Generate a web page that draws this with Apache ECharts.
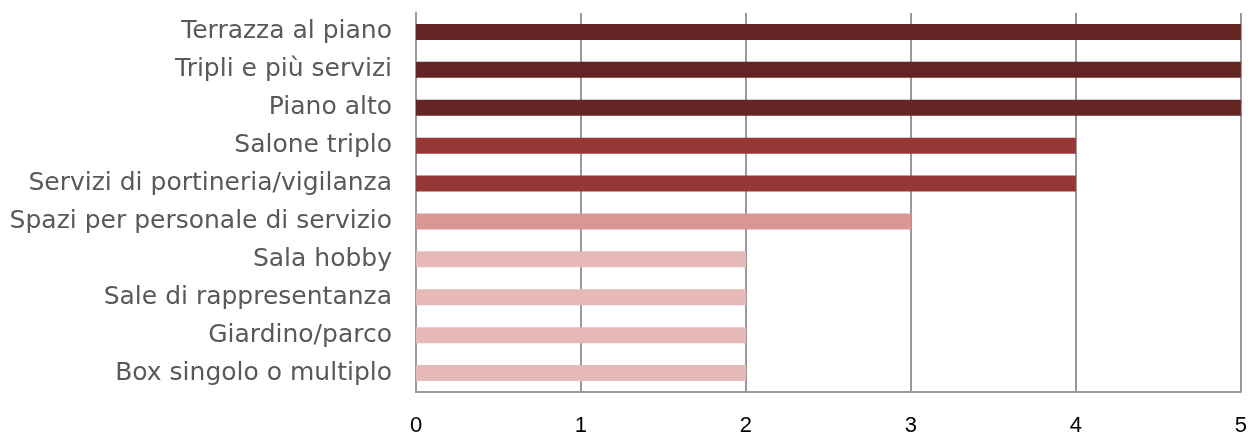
<!DOCTYPE html>
<html>
<head>
<meta charset="utf-8">
<script src="https://cdn.jsdelivr.net/npm/echarts@6/dist/echarts.min.js"></script>
<style>
  html, body { margin: 0; padding: 0; background: #fff; }
  #chart { width: 1250px; height: 437px; }
</style>
</head>
<body>
<div id="chart"></div>
<script>
// Categories listed bottom to top, as the category axis draws them
const categories = [
  'Box singolo o multiplo',
  'Giardino/parco',
  'Sale di rappresentanza',
  'Sala hobby',
  'Spazi per personale di servizio',
  'Servizi di portineria/vigilanza',
  'Salone triplo',
  'Piano alto',
  'Tripli e più servizi',
  'Terrazza al piano'
];
const scores = [2, 2, 2, 2, 3, 4, 4, 5, 5, 5];
const xTicks = [0, 1, 2, 3, 4, 5];

// Shade bars by score level
const shadeByScore = { 2: '#E6B9B8', 3: '#D99694', 4: '#953735', 5: '#632523' };

const chart = echarts.init(document.getElementById('chart'));
chart.setOption({
  animation: false,
  grid: { left: 416, right: 8, top: 13, bottom: 45, containLabel: false },
  xAxis: {
    type: 'value',
    min: xTicks[0],
    max: xTicks[xTicks.length - 1],
    interval: 1,
    axisLine: { show: true, lineStyle: { color: '#999999', width: 2 } },
    axisTick: { show: false },
    axisLabel: {
      color: '#000000',
      fontFamily: 'Liberation Sans',
      fontSize: 22,
      margin: 23
    },
    splitLine: { show: true, lineStyle: { color: '#999999', width: 2 } }
  },
  yAxis: {
    type: 'category',
    data: categories,
    axisLine: { show: true, lineStyle: { color: '#999999', width: 2 } },
    axisTick: { show: false },
    axisLabel: {
      color: '#595959',
      fontFamily: 'DejaVu Sans',
      fontSize: 25,
      margin: 24
    }
  },
  series: [{
    type: 'bar',
    data: scores.map(v => ({ value: v, itemStyle: { color: shadeByScore[v] } })),
    barWidth: 16
  }]
});
</script>
</body>
</html>
